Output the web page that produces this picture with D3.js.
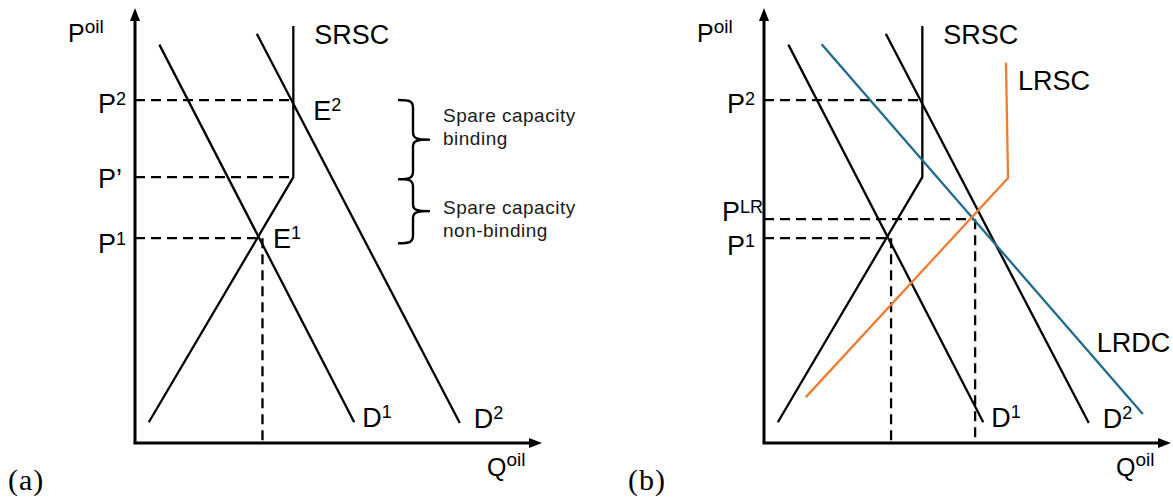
<!DOCTYPE html>
<html>
<head>
<meta charset="utf-8">
<script src="https://cdn.jsdelivr.net/npm/d3@7"></script>
<style>
  html, body { margin: 0; padding: 0; background: #fff; }
  svg { display: block; }
  text { font-family: "Liberation Sans", Arial, sans-serif; fill: #000; }
  .note { font-family: "Liberation Sans", Arial, sans-serif; fill: #1a1a1a; }
  .tag { font-family: "Liberation Serif", "DejaVu Serif", serif; }
</style>
</head>
<body>
<script>
// Curves as [quantity, price] points (arbitrary units, 0..100 on both axes)
const demandD1 = [[6, 92], [54, 4.8]];
const demandD2 = [[30, 94.5], [80, 4.6]];
const srsc = [[39, 96.3], [39, 61.4], [3.4, 4.8]];
const lrdc = [[14.2, 92.1], [93.3, 6.7]];
const lrsc = [[10.3, 10.6], [60.1, 61.2], [59.6, 87.8]];

// Price levels marked on the vertical axis
const pricesA = [
  { main: "P", sup: "2", p: 79.2, q: 39 },
  { main: "P’", sup: "", p: 61.4, q: 39 },
  { main: "P", sup: "1", p: 47.3, q: 30.8 }
];
const pricesB = [
  { main: "P", sup: "2", p: 79.2, q: 39 },
  { main: "P", sup: "LR", p: 51.7, q: 51.6 },
  { main: "P", sup: "1", p: 47.3, q: 30.8 }
];
// Quantities dropped to the horizontal axis
const quantitiesA = [{ q: 31.4, p: 47.3 }];
const quantitiesB = [{ q: 31.3, p: 47.3 }, { q: 52, p: 51.7 }];

// Equilibrium point labels
const equilibriaA = [
  { main: "E", sup: "2", q: 39, p: 79.2 },
  { main: "E", sup: "1", q: 30.8, p: 47.3 }
];

const bracesText = [["Spare capacity", "binding"], ["Spare capacity", "non-binding"]];

const W = 1173, H = 500;
const svg = d3.select("body").append("svg").attr("width", W).attr("height", H);

const y = d3.scaleLinear().domain([0, 100]).range([443, 10]);
const xA = d3.scaleLinear().domain([0, 100]).range([135, 541]);
const xB = d3.scaleLinear().domain([0, 100]).range([764, 1170]);

const BLACK = "#000";
const BLUE = "#1f6b8e";
const ORANGE = "#ed7d31";

function supText(g, x, yy, main, sup, size, supSize, shift) {
  const t = g.append("text").attr("x", x).attr("y", yy).style("font-size", size + "px");
  t.append("tspan").text(main);
  if (sup) t.append("tspan").attr("dy", -shift).style("font-size", supSize + "px").text(sup);
  return t;
}

function drawPanel(x, opts) {
  const g = svg.append("g");
  const line = d3.line().x(d => x(d[0])).y(d => y(d[1]));

  // dashed guides
  const dash = g.append("g").attr("stroke", BLACK).attr("stroke-width", 2.3)
    .attr("stroke-dasharray", "10,6").attr("fill", "none");
  opts.prices.forEach(d => {
    dash.append("line").attr("x1", x(0)).attr("x2", x(d.q))
      .attr("y1", y(d.p)).attr("y2", y(d.p));
  });
  opts.quantities.forEach(d => {
    dash.append("line").attr("x1", x(d.q)).attr("x2", x(d.q))
      .attr("y1", y(d.p)).attr("y2", y(0));
  });

  // curves
  opts.curves.forEach(c => {
    g.append("path").datum(c.data).attr("d", line).attr("fill", "none")
      .attr("stroke", c.color).attr("stroke-width", 2.3).attr("stroke-linejoin", "miter");
  });

  // axes with arrowheads
  const ax = g.append("g");
  ax.append("line").attr("x1", x(0)).attr("y1", y(0)).attr("x2", x(0)).attr("y2", y(100) + 4)
    .attr("stroke", BLACK).attr("stroke-width", 3);
  ax.append("line").attr("x1", x(0) - 1.5).attr("y1", y(0)).attr("x2", x(100) - 6).attr("y2", y(0))
    .attr("stroke", BLACK).attr("stroke-width", 3);
  const tipY = y(100) - 2, tipX = x(100) + 1;
  ax.append("path").attr("d", `M${x(0)},${tipY} L${x(0) - 5},${tipY + 13} L${x(0) + 5},${tipY + 13} Z`).attr("fill", BLACK);
  ax.append("path").attr("d", `M${tipX},${y(0)} L${tipX - 13},${y(0) - 5} L${tipX - 13},${y(0) + 5} Z`).attr("fill", BLACK);

  // axis titles
  supText(g, x(0) - 67, 42, "P", "oil", 25, 19, 9);
  supText(g, x(86.7), 476, "Q", "oil", 25, 19, 10);

  // price labels on the vertical axis
  opts.prices.forEach((d, i) => {
    const wide = d.sup.length > 1;
    const off = opts.priceOffsets[i];
    supText(g, x(0) - (wide ? 42 : 37), y(d.p) + off, d.main, d.sup, 27, 18, 8);
  });

  // curve end labels
  supText(g, x(srsc[0][0]) + 21, y(srsc[0][1]) + 18, "SRSC", "", 27, 18, 0);
  supText(g, x(demandD1[1][0]) + 8, y(demandD1[1][1]) + 5, "D", "1", 27, 18, 9);
  supText(g, x(demandD2[1][0]) + 14, y(demandD2[1][1]) + 5, "D", "2", 27, 18, 9);

  g.append("text").attr("class", "tag").attr("x", opts.tagX).attr("y", 490)
    .style("font-size", "30px").style("letter-spacing", "1px").text(opts.tag);
  return g;
}

// Panel (a): short-run supply with a capacity kink
const gA = drawPanel(xA, {
  prices: pricesA,
  quantities: quantitiesA,
  priceOffsets: [13, 11, 15],
  curves: [
    { data: demandD1, color: BLACK },
    { data: demandD2, color: BLACK },
    { data: srsc, color: BLACK }
  ],
  tag: "(a)",
  tagX: 8
});
equilibriaA.forEach((d, i) => {
  const dx = i === 0 ? 20 : 13, dy = i === 0 ? 20 : 10;
  supText(gA, xA(d.q) + dx, y(d.p) + dy, d.main, d.sup, 27, 18, 9);
});

// curly braces marking the two regimes of the supply curve
function brace(g, x0, x1, x2, ya, yb) {
  const ym = (ya + yb) / 2;
  const p = `M${x0},${ya} C${x1 - 3},${ya} ${x1},${ya + 1} ${x1},${ya + 8}` +
    ` L${x1},${ym - 7} C${x1},${ym - 1} ${x1 + 4},${ym} ${x2},${ym}` +
    ` C${x1 + 4},${ym} ${x1},${ym + 1} ${x1},${ym + 7}` +
    ` L${x1},${yb - 8} C${x1},${yb - 1} ${x1 - 3},${yb} ${x0},${yb}`;
  g.append("path").attr("d", p).attr("fill", "none").attr("stroke", BLACK).attr("stroke-width", 2.4);
}
const bTop = y(pricesA[0].p), bMid = y(pricesA[1].p) + 2, bBot = y(pricesA[2].p) + 5;
brace(gA, 398, 413, 430, bTop, bMid);
brace(gA, 398, 413, 430, bMid, bBot);
[[bTop + 22, bracesText[0]], [bMid + 35, bracesText[1]]].forEach(([yy, lines]) => {
  lines.forEach((s, k) => {
    gA.append("text").attr("class", "note").attr("x", 443).attr("y", yy + k * 23)
      .style("font-size", "19px").style("letter-spacing", "0.5px").text(s);
  });
});

// Panel (b): adding long-run supply and demand
const gB = drawPanel(xB, {
  prices: pricesB,
  quantities: quantitiesB,
  priceOffsets: [13, 2, 17],
  curves: [
    { data: demandD1, color: BLACK },
    { data: demandD2, color: BLACK },
    { data: srsc, color: BLACK },
    { data: lrdc, color: BLUE },
    { data: lrsc, color: ORANGE }
  ],
  tag: "(b)",
  tagX: 628
});
supText(gB, xB(lrsc[2][0]) + 12, y(lrsc[2][1]) + 27, "LRSC", "", 27, 18, 0);
supText(gB, xB(lrdc[1][0]) - 46, y(lrdc[1][1]) - 62, "LRDC", "", 27, 18, 0);
</script>
</body>
</html>
